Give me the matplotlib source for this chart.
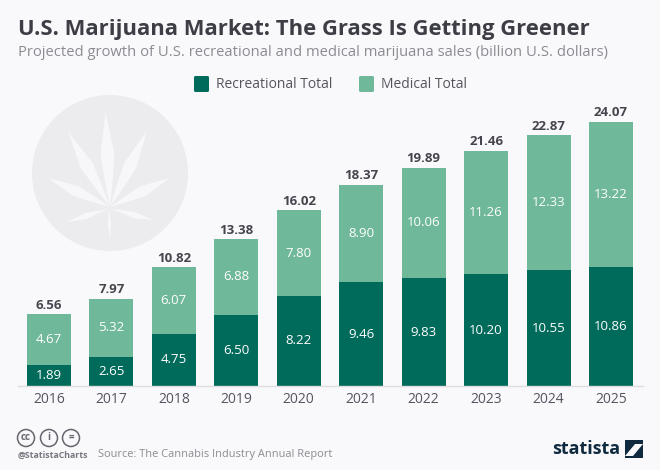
import numpy as np
import matplotlib.pyplot as plt
from matplotlib.patches import Circle, Polygon, FancyBboxPatch, Rectangle

years = ['2016', '2017', '2018', '2019', '2020', '2021', '2022', '2023', '2024', '2025']
recreational = [1.89, 2.65, 4.75, 6.50, 8.22, 9.46, 9.83, 10.20, 10.55, 10.86]
medical = [4.67, 5.32, 6.07, 6.88, 7.80, 8.90, 10.06, 11.26, 12.33, 13.22]
totals = ['6.56', '7.97', '10.82', '13.38', '16.02', '18.37', '19.89', '21.46', '22.87', '24.07']

dark = '#006a5b'
light = '#6fb899'
bg = '#f9f8fb'
plt.rcParams['font.family'] = ['Open Sans', 'DejaVu Sans']

fig = plt.figure(figsize=(6.6, 4.7), dpi=100, facecolor=bg)

# overlay in pixel coordinates for everything that is not the bars
pix = fig.add_axes([0, 0, 1, 1])
pix.set_xlim(0, 660)
pix.set_ylim(470, 0)
pix.axis('off')


def leaflet(x0, y0, x1, y1, w):
    # pointed leaf shape from base to tip
    d = np.array([x1 - x0, y1 - y0], dtype=float)
    n = np.array([-d[1], d[0]]) / np.hypot(*d)
    base, tip = np.array([x0, y0]), np.array([x1, y1])
    pts = [base, base + d * 0.3 + n * w * 0.6, base + d * 0.55 + n * w, base + d * 0.8 + n * w * 0.45, tip,
           base + d * 0.8 - n * w * 0.45, base + d * 0.55 - n * w, base + d * 0.3 - n * w * 0.6]
    pix.add_patch(Polygon(pts, closed=True, fc='#f7f6f9', ec='none'))


pix.add_patch(Circle((110, 173), 78, fc='#ececee', ec='none'))
leaflet(110, 207, 105.5, 112, 7)
leaflet(110, 207, 68, 132, 6.5)
leaflet(110, 207, 147, 131, 6.5)
leaflet(110, 207, 48, 178, 5.5)
leaflet(110, 207, 170, 178, 5.5)
leaflet(108, 209, 67, 222, 3)
leaflet(112, 209, 153, 220, 3)
leaflet(109, 207, 110, 239, 1.5)

ax = fig.add_axes([18 / 660, (470 - 386) / 470, 625 / 660, 290 / 470])
ax.patch.set_alpha(0)
x = np.arange(len(years))
ax.bar(x, recreational, width=0.705, color=dark)
ax.bar(x, medical, width=0.705, bottom=recreational, color=light)
ax.set_xlim(-0.496, 9.513)
ax.set_ylim(0, 290 / 10.97)

for i in range(len(years)):
    ax.text(i, recreational[i] / 2, f'{recreational[i]:.2f}', ha='center', va='center', fontsize=9.5, color='#ffffff')
    ax.text(i, recreational[i] + medical[i] / 2, f'{medical[i]:.2f}', ha='center', va='center', fontsize=9.5, color='#ffffff')
    ax.text(i, recreational[i] + medical[i] + 0.22, totals[i], ha='center', va='bottom', fontsize=9.5,
            fontweight='bold', color='#45454d')

ax.set_xticks(x, years)
ax.tick_params(axis='x', length=0, pad=4, labelsize=10, labelcolor='#555560')
ax.set_yticks([])
for s in ['top', 'left', 'right']:
    ax.spines[s].set_visible(False)
ax.spines['bottom'].set_color('#dddddf')
ax.spines['bottom'].set_linewidth(1)

pix.text(18, 29, 'U.S. Marijuana Market: The Grass Is Getting Greener', fontsize=15.85, fontweight='bold',
         color='#3d3d45', va='center')
pix.text(18, 52, 'Projected growth of U.S. recreational and medical marijuana sales (billion U.S. dollars)',
         fontsize=10.6, color='#8b8b92', va='center')

# legend
pix.add_patch(FancyBboxPatch((194, 76), 15, 16, boxstyle='round,pad=0,rounding_size=1.5', fc=dark, ec='none'))
pix.add_patch(FancyBboxPatch((359, 76), 15, 16, boxstyle='round,pad=0,rounding_size=1.5', fc=light, ec='none'))
pix.text(216, 85, 'Recreational Total', fontsize=10, color='#55555d', va='center')
pix.text(381, 85, 'Medical Total', fontsize=10, color='#55555d', va='center')

# footer
for cx, lab in zip([26, 49, 71], ['cc', 'i', '=']):
    pix.add_patch(Circle((cx, 438), 8.5, fc='none', ec='#66666e', lw=1.1))
    pix.text(cx, 437.5, lab, fontsize=7, fontweight='bold', color='#66666e', ha='center', va='center')
pix.text(18, 455, '@StatistaCharts', fontsize=6.3, fontweight='bold', color='#77777f', va='center')
pix.text(98.5, 454, 'Source: The Cannabis Industry Annual Report', fontsize=7.9, color='#8b8b92', va='center')
pix.text(586, 449, 'statista', fontsize=13, fontweight='bold', color='#0f2a3f', ha='center', va='center')
pix.add_patch(Rectangle((625, 440), 18, 18, fc='#0f2a3f', ec='none'))
pix.add_patch(Polygon([(625, 456), (635, 444), (643, 444), (633, 456)], closed=True, fc=bg, ec='none'))

fig.savefig('out.png', dpi=100, facecolor=bg)
